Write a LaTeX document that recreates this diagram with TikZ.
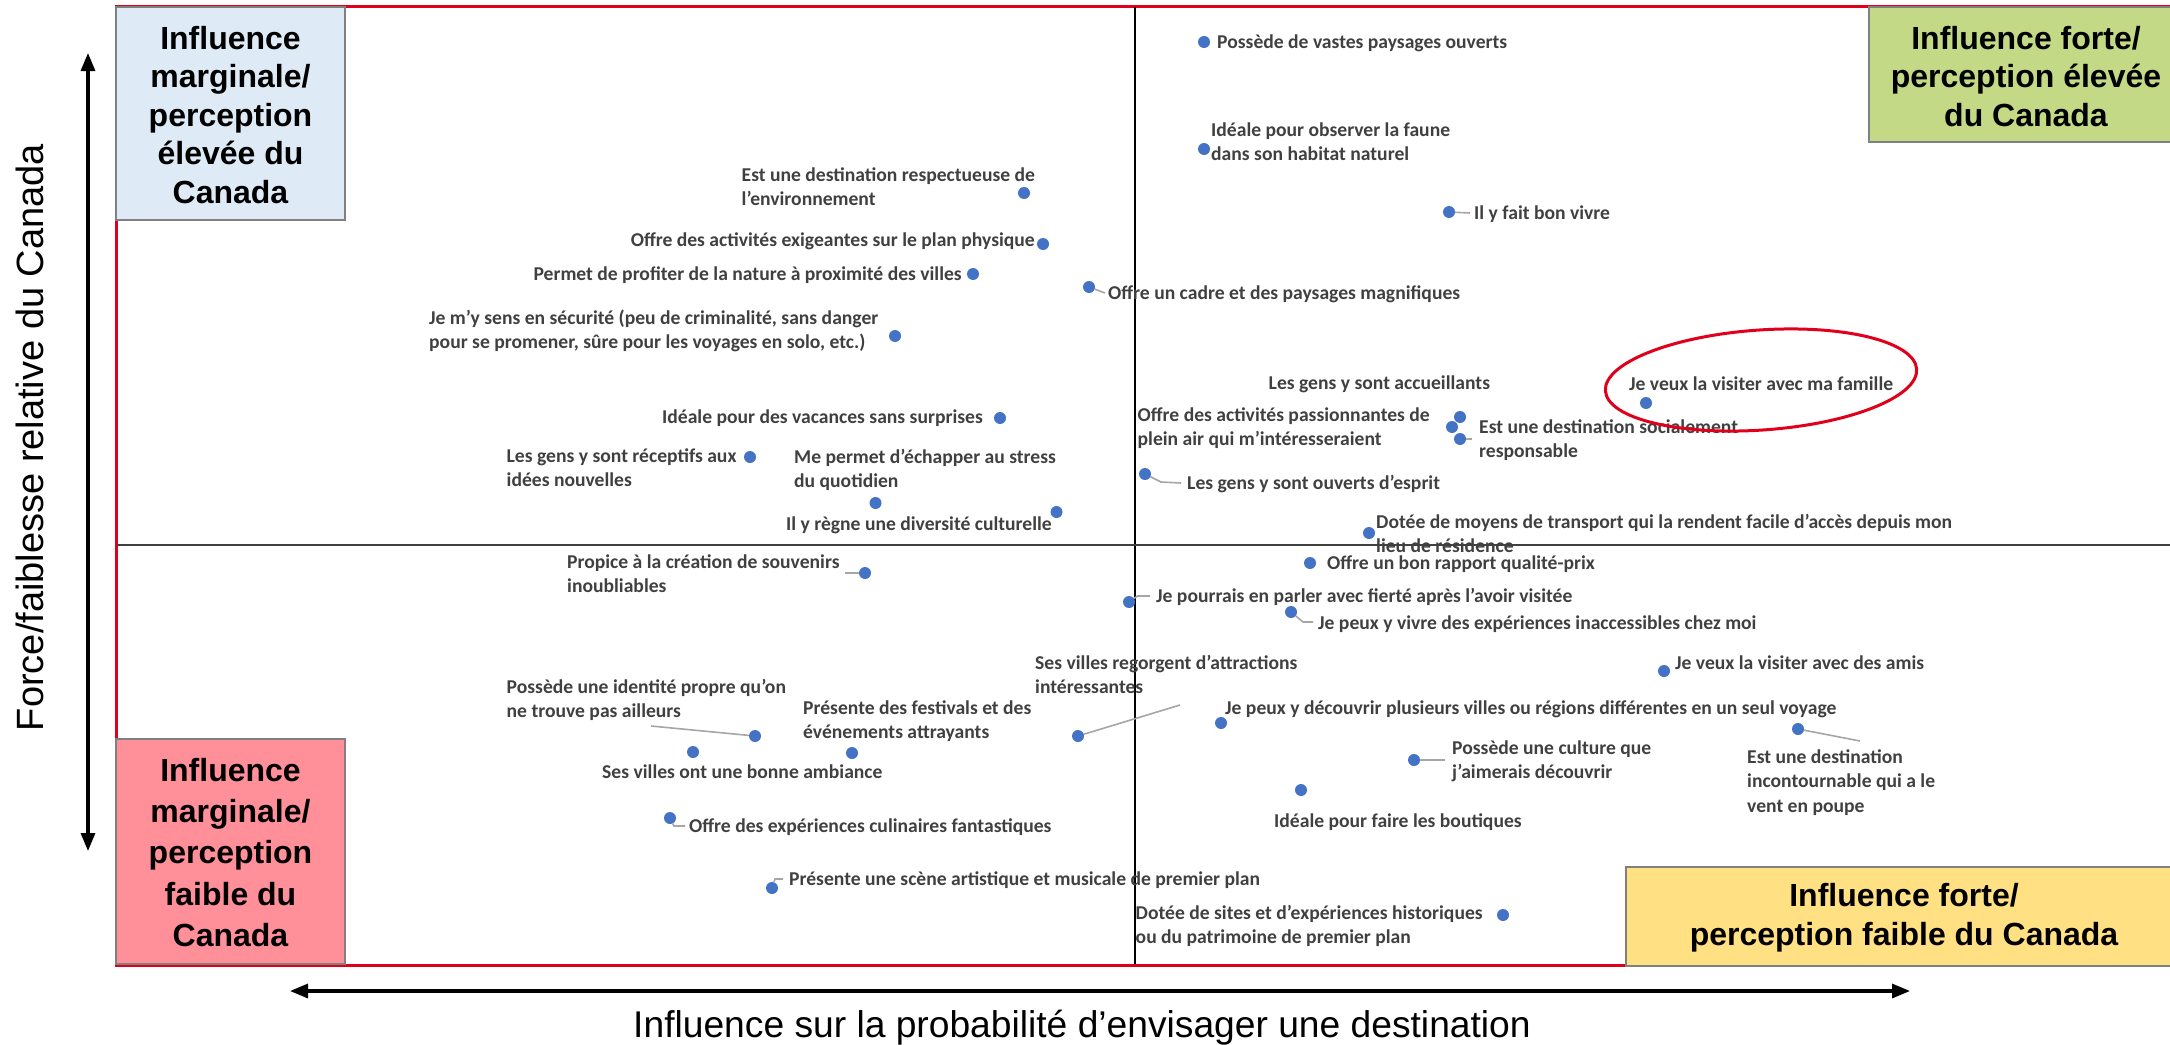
\documentclass[tikz,border=0pt]{standalone}
\usepackage{fontspec}
\setmainfont{Liberation Sans}
\newfontfamily\calib{Carlito}
\usetikzlibrary{arrows.meta,shapes.geometric}
\definecolor{dotblue}{HTML}{4472C4}
\definecolor{labgray}{HTML}{404040}
\definecolor{leadgray}{HTML}{A6A6A6}
\definecolor{framered}{HTML}{E0001B}
\definecolor{boxblue}{HTML}{DEEBF7}
\definecolor{boxgreen}{HTML}{C4D985}
\definecolor{boxpink}{HTML}{FF8F99}
\definecolor{boxyellow}{HTML}{FFE082}
\definecolor{boxedge}{HTML}{808080}
\newcommand{\ml}[1]{\begin{tabular}[t]{@{}l@{}}#1\end{tabular}}
\begin{document}
\begin{tikzpicture}[x=1pt,y=-1pt,
 lab/.style={anchor=base west,inner sep=0pt,text=labgray,font=\calib\bfseries\fontsize{19.6}{24.5}\selectfont},
 labr/.style={lab,anchor=base east},
 dot/.style={circle,fill=dotblue,inner sep=0pt,minimum size=12pt},
 leader/.style={draw=leadgray,line width=1.6pt},
 quad/.style={draw=boxedge,line width=2pt,inner sep=0pt},
 quadtext/.style={align=center,font=\bfseries\fontsize{32}{38.5}\selectfont,inner sep=0pt},
 axisarrow/.style={line width=3.2pt,{Triangle[length=18pt,width=14pt]}-{Triangle[length=18pt,width=14pt]}}
]
\useasboundingbox (0,0) rectangle (2170,1044);
% frame
\draw[draw=framered,line width=3pt] (2175,6) -- (116,6) -- (116,965) -- (2175,965);
% quadrant dividers
\coordinate (vt) at (1135,7); \coordinate (vb) at (1135,964);
\coordinate (hl) at (117,545); \coordinate (hr) at (2175,545);
\draw[line width=1.5pt] (vt) -- (vb);
\draw[draw=labgray,line width=2pt] (hl) -- (hr);
% quadrant boxes
\node[quad,fill=boxblue,minimum width=229pt,minimum height=213pt] (qtl) at (230.5,113.5) {};
\node[quadtext] (ttl) at (230.5,115) {Influence\\marginale/\\perception\\élevée du\\Canada};
\node[quad,fill=boxgreen,minimum width=316pt,minimum height=135pt] (qtr) at (2027,74.5) {};
\node[quadtext] (ttr) at (2026,76.5) {Influence forte/\\perception élevée\\du Canada};
\node[quad,fill=boxpink,minimum width=229pt,minimum height=225pt] (qbl) at (230.5,851.5) {};
\node[quadtext,font=\bfseries\fontsize{32}{41.2}\selectfont] (tbl) at (230.5,852.5) {Influence\\marginale/\\perception\\faible du\\Canada};
\node[quad,fill=boxyellow,minimum width=559pt,minimum height=99pt] (qbr) at (1905.5,916.5) {};
\node[quadtext] (tbr) at (1904,917.5) {Influence forte/\\perception faible du Canada};
% axes
\coordinate (ya) at (88,53); \coordinate (yb) at (88,851);
\draw[axisarrow] (ya) -- (yb);
\coordinate (xa) at (290,991); \coordinate (xb) at (1910,991);
\draw[axisarrow] (xa) -- (xb);
\node[rotate=90,anchor=base,inner sep=0pt,font=\fontsize{38}{45}\selectfont] (ylab) at (43,437.5) {Force/faiblesse relative du Canada};
\node[anchor=base,inner sep=0pt,font=\fontsize{37.2}{44}\selectfont] (xlab) at (1082,1037) {Influence sur la probabilité d’envisager une destination};
% labels
\node[lab] (l1) at (1217,48) {Possède de vastes paysages ouverts};
\node[lab] (l2) at (1211,136) {\ml{Idéale pour observer la faune\\dans son habitat naturel}};
\node[lab] (l3) at (741.5,181) {\ml{Est une destination respectueuse de\\l’environnement}};
\node[lab] (l4) at (1474,219) {Il y fait bon vivre};
\node[labr] (l5) at (1035,246) {Offre des activités exigeantes sur le plan physique};
\node[labr] (l6) at (962,280) {Permet de profiter de la nature à proximité des villes};
\node[lab] (l7) at (1108,299) {Offre un cadre et des paysages magnifiques};
\node[lab] (l8) at (429,324) {\ml{Je m’y sens en sécurité (peu de criminalité, sans danger\\pour se promener, sûre pour les voyages en solo, etc.)}};
\node[lab] (l9) at (1268.5,389) {Les gens y sont accueillants};
\node[lab] (l10) at (1629,390) {Je veux la visiter avec ma famille};
\node[labr] (l11) at (983,423) {Idéale pour des vacances sans surprises};
\node[lab] (l12) at (1137.5,421) {\ml{Offre des activités passionnantes de\\plein air qui m’intéresseraient}};
\node[lab] (l13) at (1479,433) {\ml{Est une destination socialement\\responsable}};
\node[lab] (l14) at (506.5,462) {\ml{Les gens y sont réceptifs aux\\idées nouvelles}};
\node[lab] (l15) at (794,463) {\ml{Me permet d’échapper au stress\\du quotidien}};
\node[lab] (l16) at (1187,489) {Les gens y sont ouverts d’esprit};
\node[labr] (l17) at (1052,530) {Il y règne une diversité culturelle};
\node[lab] (l18) at (1376,528) {\ml{Dotée de moyens de transport qui la rendent facile d’accès depuis mon\\lieu de résidence}};
\node[lab] (l19) at (567,568) {\ml{Propice à la création de souvenirs\\inoubliables}};
\node[lab] (l20) at (1327,569) {Offre un bon rapport qualité-prix};
\node[lab] (l21) at (1156,602) {Je pourrais en parler avec fierté après l’avoir visitée};
\node[lab] (l22) at (1318,629) {Je peux y vivre des expériences inaccessibles chez moi};
\node[lab] (l23) at (1035,669) {\ml{Ses villes regorgent d’attractions\\intéressantes}};
\node[lab] (l24) at (1675,669) {Je veux la visiter avec des amis};
\node[lab] (l25) at (506.5,693) {\ml{Possède une identité propre qu’on\\ne trouve pas ailleurs}};
\node[lab] (l26) at (803,714) {\ml{Présente des festivals et des\\événements attrayants}};
\node[lab] (l27) at (1225,714) {Je peux y découvrir plusieurs villes ou régions différentes en un seul voyage};
\node[lab] (l28) at (1747,763) {\ml{Est une destination\\incontournable qui a le\\vent en poupe}};
\node[lab] (l29) at (1452,754) {\ml{Possède une culture que\\j’aimerais découvrir}};
\node[lab] (l30) at (602,778) {Ses villes ont une bonne ambiance};
\node[lab] (l31) at (1274,827) {Idéale pour faire les boutiques};
\node[lab] (l32) at (689,832) {Offre des expériences culinaires fantastiques};
\node[lab] (l33) at (789,885) {Présente une scène artistique et musicale de premier plan};
\node[lab] (l34) at (1135.5,919) {\ml{Dotée de sites et d’expériences historiques\\ou du patrimoine de premier plan}};
% dots
\node[dot] (d1) at (1204,42) {};
\node[dot] (d2) at (1204,149) {};
\node[dot] (d3) at (1024,193) {};
\node[dot] (d4) at (1449,212) {};
\node[dot] (d5) at (1043,244) {};
\node[dot] (d6) at (973,274) {};
\node[dot] (d7) at (1089,287) {};
\node[dot] (d8) at (895,336) {};
\node[dot] (d9) at (1460,417) {};
\node[dot] (d10) at (1646,403) {};
\node[dot] (d11) at (1000,418) {};
\node[dot] (d12) at (1452,427) {};
\node[dot] (d13) at (1460,439) {};
\node[dot] (d14) at (750,457) {};
\node[dot] (d15) at (875.5,503) {};
\node[dot] (d16) at (1145,474) {};
\node[dot] (d17) at (1056.5,512) {};
\node[dot] (d18) at (1369,533) {};
\node[dot] (d19) at (865,573) {};
\node[dot] (d20) at (1310,563) {};
\node[dot] (d21) at (1129,602) {};
\node[dot] (d22) at (1291,612) {};
\node[dot] (d23) at (1078,736) {};
\node[dot] (d24) at (1664,671) {};
\node[dot] (d25) at (755,736) {};
\node[dot] (d26) at (852,753) {};
\node[dot] (d27) at (1221,723) {};
\node[dot] (d28) at (1798,729) {};
\node[dot] (d29) at (1414,760) {};
\node[dot] (d30) at (693,752) {};
\node[dot] (d31) at (1301,790) {};
\node[dot] (d32) at (670,818) {};
\node[dot] (d33) at (772,888) {};
\node[dot] (d34) at (1503,915) {};
% leader lines
\draw[leader] (d7) -- (1105,293);
\draw[leader] (d4) -- (1470,213);
\draw[leader] (d19) -- (845,573);
\draw[leader] (d25) -- (651,726);
\draw[leader] (d23) -- (1180,705);
\draw[leader] (d32) -- (674,826) -- (685,826);
\draw[leader] (d33) -- (775,879) -- (783,879);
\draw[leader] (d13) -- (1472,439);
\draw[leader] (d16) -- (1161,482) -- (1181,483);
\draw[leader] (d21) -- (1137.5,596) -- (1150,596);
\draw[leader] (d22) -- (1303,622) -- (1313,622);
\draw[leader] (d28) -- (1860,741);
\draw[leader] (d29) -- (1445,760);
% highlight
\node[draw=framered,line width=3pt,ellipse,minimum width=312pt,minimum height=100pt,inner sep=0pt,rotate=4] (oval) at (1761,380) {};
\end{tikzpicture}
\end{document}
